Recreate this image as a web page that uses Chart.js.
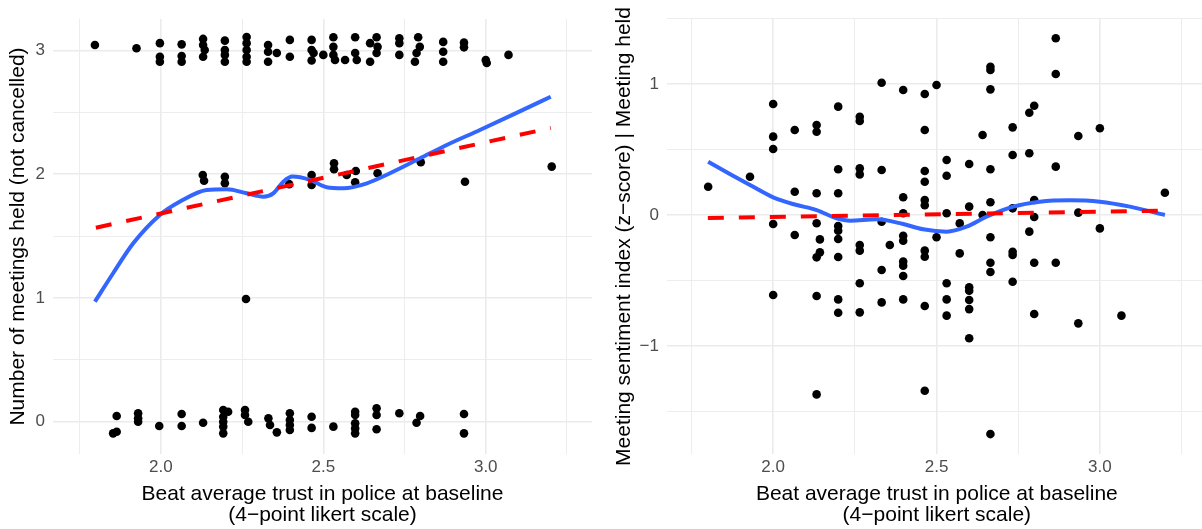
<!DOCTYPE html>
<html>
<head>
<meta charset="utf-8">
<script src="https://cdn.jsdelivr.net/npm/chart.js@4.4.1/dist/chart.umd.min.js"></script>
<style>
  html, body { margin: 0; padding: 0; background: #fff; overflow: hidden; }
  body { width: 1202px; height: 529px; position: relative; }
  canvas { position: absolute; top: 0; }
  #chart-meetings { left: 0; }
  #chart-sentiment { left: 601px; }
</style>
</head>
<body>
<canvas id="chart-meetings" width="601" height="529"></canvas>
<canvas id="chart-sentiment" width="610" height="529"></canvas>
<script>
// Axis breaks (labelled = major, blank = minor gridline)
const trustTicks = [1.75, 2, 2.25, 2.5, 2.75, 3, 3.25];
const trustTickLabels = ['', '2.0', '', '2.5', '', '3.0', ''];
const meetingTicks = [0, 0.5, 1, 1.5, 2, 2.5, 3];
const meetingTickLabels = ['0', '', '1', '', '2', '', '3'];
const sentimentTicks = [-1.5, -1, -0.5, 0, 0.5, 1, 1.5];
const sentimentTickLabels = ['', '\u22121', '', '0', '', '1', ''];

// Meetings held per beat (jittered)
const meetingsTrust = [
  1.797, 1.925, 1.997, 1.997, 1.997, 2.064, 2.064, 2.064, 2.13, 2.13, 2.135, 2.13,
  2.197, 2.197, 2.197, 2.197, 2.264, 2.264, 2.264, 2.264, 2.264, 2.33, 2.33, 2.357, 2.33,
  2.397, 2.397, 2.464, 2.464, 2.47, 2.464, 2.5, 2.531, 2.531, 2.531, 2.536, 2.567,
  2.598, 2.598, 2.603, 2.644, 2.664, 2.667, 2.664, 2.644, 2.734, 2.734, 2.734,
  2.792, 2.797, 2.787, 2.782, 2.869, 2.869, 2.869, 2.933, 2.933, 3.0, 3.003, 3.07,
  2.129, 2.133, 2.197, 2.197, 2.262, 2.395, 2.464, 2.464, 2.533, 2.533, 2.572, 2.6,
  2.598, 2.667, 2.8, 2.936, 3.203,
  1.864, 1.853, 1.864, 1.93, 1.93, 1.93, 1.995, 2.064, 2.064, 2.13,
  2.192, 2.207, 2.192, 2.192, 2.192, 2.192, 2.259, 2.259, 2.269, 2.331, 2.336, 2.357,
  2.397, 2.397, 2.397, 2.397, 2.464, 2.464, 2.531, 2.598, 2.598, 2.598, 2.598, 2.598,
  2.664, 2.664, 2.664, 2.734, 2.798, 2.787, 2.933, 2.933
];
const meetingsHeld = [
  3.045, 3.019, 3.06, 2.95, 2.91, 3.05, 2.956, 2.91, 3.094, 3.045, 3.004, 2.95,
  3.08, 3.005, 2.965, 2.91, 3.11, 3.06, 3.005, 2.95, 2.91, 3.045, 2.99, 2.98, 2.91,
  3.086, 2.95, 3.086, 3.005, 2.98, 2.92, 2.965, 3.107, 3.03, 2.965, 2.924, 2.924,
  3.107, 2.98, 2.924, 3.06, 3.107, 3.03, 2.98, 2.91, 3.1, 3.06, 2.965,
  3.107, 3.03, 2.98, 2.91, 3.07, 2.99, 2.91, 3.064, 3.026, 2.924, 2.9, 2.965,
  1.994, 1.948, 1.98, 1.927, 0.992, 1.92, 1.994, 1.913, 2.089, 2.04, 1.994, 2.027,
  1.935, 2.008, 2.097, 1.94, 2.062,
  0.046, -0.094, -0.081, 0.068, 0.027, 0.0, -0.035, 0.062, -0.035, -0.008,
  0.095, 0.081, 0.04, 0.0, -0.04, -0.094, 0.095, 0.054, 0.0, 0.027, -0.027, -0.086,
  0.068, 0.014, -0.027, -0.067, 0.04, -0.05, -0.04, 0.081, 0.054, -0.013, -0.054, -0.094,
  0.108, 0.054, -0.061, 0.068, 0.046, -0.008, 0.062, -0.094
];

// Loess and linear fits for meetings held
const meetingsSmoothX = [1.797, 1.853, 1.915, 1.997, 2.059, 2.141, 2.203, 2.264, 2.315, 2.346, 2.377, 2.405, 2.459, 2.51, 2.562, 2.634, 2.705, 2.798, 2.88, 2.982, 3.09, 3.2];
const meetingsSmoothY = [0.97, 1.2, 1.442, 1.671, 1.779, 1.873, 1.879, 1.846, 1.819, 1.846, 1.94, 1.981, 1.954, 1.895, 1.887, 1.927, 2.008, 2.129, 2.237, 2.358, 2.49, 2.627];
const meetingsFitX = [1.8, 3.2];
const meetingsFitY = [1.568, 2.374];

// Meeting sentiment per held meeting
const sentimentTrust = [
  1.801, 1.929, 2.0, 2.0, 2.0, 2.0, 2.0, 2.066, 2.066, 2.066,
  2.133, 2.133, 2.133, 2.133, 2.143, 2.143, 2.133, 2.133, 2.133,
  2.199, 2.199, 2.199, 2.199, 2.199, 2.199, 2.199, 2.199, 2.199,
  2.265, 2.265, 2.265, 2.265, 2.265, 2.265, 2.265, 2.265,
  2.332, 2.332, 2.332, 2.357, 2.332, 2.332,
  2.398, 2.398, 2.398, 2.398, 2.398, 2.398, 2.398, 2.398, 2.398,
  2.464, 2.464, 2.464, 2.464, 2.464, 2.464, 2.464, 2.464, 2.464, 2.464,
  2.5, 2.5, 2.531, 2.531, 2.531, 2.531, 2.531, 2.531, 2.571, 2.571,
  2.6, 2.6, 2.6, 2.6, 2.6, 2.6, 2.6, 2.641, 2.641,
  2.665, 2.665, 2.665, 2.665, 2.665, 2.665, 2.665, 2.665, 2.665,
  2.733, 2.733, 2.733, 2.733, 2.733, 2.733,
  2.784, 2.799, 2.784, 2.799, 2.799, 2.784, 2.799, 2.799,
  2.865, 2.865, 2.865, 2.865, 2.934, 2.934, 2.934, 3.0, 3.0, 3.066, 3.199
];
const sentimentScore = [
  0.216, 0.292, 0.847, 0.598, 0.504, -0.069, -0.611, 0.649, 0.178, -0.153,
  0.687, 0.636, 0.166, -0.063, -0.186, -0.285, -0.323, -0.618, -1.369,
  0.827, 0.349, 0.166, -0.084, -0.12, -0.183, -0.321, -0.644, -0.746,
  0.75, 0.718, 0.356, 0.31, -0.229, -0.272, -0.521, -0.743,
  1.01, 0.344, -0.051, -0.229, -0.42, -0.667,
  0.954, 0.135, 0.013, -0.158, -0.196, -0.356, -0.387, -0.466, -0.644,
  0.924, 0.649, 0.336, 0.254, 0.115, 0.074, -0.272, -0.318, -0.695, -1.341,
  0.992, -0.17, 0.42, 0.3, 0.013, -0.521, -0.644, -0.768, -0.064, -0.293,
  0.389, 0.064, -0.552, -0.578, -0.649, -0.718, -0.941, 0.611, 0.0,
  1.132, 1.107, 0.959, 0.349, 0.097, -0.17, -0.364, -0.435, -1.672,
  0.669, 0.458, 0.051, -0.28, -0.305, -0.509,
  0.781, 0.834, 0.471, 0.115, -0.015, -0.127, -0.364, -0.756,
  1.349, 1.076, 0.369, -0.364, 0.603, 0.018, -0.827, 0.662, -0.102, -0.768, 0.17
];

// Loess and linear fits for sentiment
const sentimentSmoothX = [1.801, 1.87, 1.929, 2.0, 2.066, 2.133, 2.194, 2.235, 2.316, 2.398, 2.459, 2.531, 2.592, 2.653, 2.735, 2.816, 2.908, 3.0, 3.092, 3.199];
const sentimentSmoothY = [0.407, 0.31, 0.229, 0.135, 0.08, 0.038, -0.025, -0.043, -0.033, -0.069, -0.109, -0.127, -0.089, -0.013, 0.064, 0.102, 0.113, 0.102, 0.064, 0.0];
const sentimentFitX = [1.8, 3.2];
const sentimentFitY = [-0.022, 0.034];

const xTitle = ['Beat average trust in police at baseline', '(4\u2212point likert scale)'];

Chart.defaults.font.family = "'Liberation Sans', Arial, Helvetica, sans-serif";

const zip = (xs, ys) => xs.map((x, i) => ({ x, y: ys[i] }));

/** Linear axis with fixed breaks and ggplot-like grid */
function axis(values, labels, opts) {
  return {
    type: 'linear',
    min: opts.min,
    max: opts.max,
    border: { display: false },
    grid: {
      color: '#EBEBEB',
      drawTicks: false,
      lineWidth: ctx => (labels[ctx.index] ? 1.6 : 0.9)
    },
    afterBuildTicks: scale => { scale.ticks = values.map(value => ({ value })); },
    afterFit: opts.fit,
    ticks: {
      autoSkip: false,
      maxRotation: 0,
      color: '#4D4D4D',
      padding: opts.tickPad,
      font: { size: 17 },
      callback: (v, i) => labels[i]
    },
    title: {
      display: true,
      text: opts.title,
      color: '#000',
      font: { size: 21, lineHeight: 1 },
      padding: opts.titlePad
    }
  };
}

/** Scatter panel: points, loess curve (blue) and linear fit (red dashed) */
function renderPanel(id, cfg) {
  return new Chart(document.getElementById(id), {
    type: 'scatter',
    data: {
      datasets: [
        { data: cfg.points, backgroundColor: '#000', borderWidth: 0, pointRadius: 4.3, order: 2 },
        { data: cfg.smooth, showLine: true, borderColor: '#3366FF', borderWidth: 4, pointRadius: 0,
          cubicInterpolationMode: 'monotone', fill: false, order: 1 },
        { data: cfg.fit, showLine: true, borderColor: '#FF0000', borderWidth: 4, borderDash: [16, 15],
          pointRadius: 0, fill: false, order: 0 }
      ]
    },
    options: {
      responsive: false,
      animation: false,
      events: [],
      layout: { padding: { left: 0, top: 19, right: cfg.padRight, bottom: 0 } },
      plugins: { legend: { display: false }, tooltip: { enabled: false } },
      scales: {
        x: axis(trustTicks, trustTickLabels, {
          min: cfg.xMin, max: cfg.xMax, tickPad: 3,
          fit: s => { s.height = 75; },
          title: xTitle, titlePad: { top: 0, bottom: 3.5 }
        }),
        y: axis(cfg.yTicks, cfg.yLabels, {
          min: cfg.yMin, max: cfg.yMax, tickPad: 8,
          fit: s => { s.width = cfg.yWidth; },
          title: cfg.yTitle, titlePad: { top: cfg.yTitlePad, bottom: 0 }
        })
      }
    }
  });
}

renderPanel('chart-meetings', {
  points: zip(meetingsTrust, meetingsHeld),
  smooth: zip(meetingsSmoothX, meetingsSmoothY),
  fit: zip(meetingsFitX, meetingsFitY),
  xMin: 1.668, xMax: 3.327,
  yMin: -0.261, yMax: 3.255,
  yTicks: meetingTicks, yLabels: meetingTickLabels,
  yTitle: 'Number of meetings held (not cancelled)',
  yWidth: 53, yTitlePad: 8, padRight: 9
});

renderPanel('chart-sentiment', {
  points: zip(sentimentTrust, sentimentScore),
  smooth: zip(sentimentSmoothX, sentimentSmoothY),
  fit: zip(sentimentFitX, sentimentFitY),
  xMin: 1.675, xMax: 3.327,
  yMin: -1.824, yMax: 1.496,
  yTicks: sentimentTicks, yLabels: sentimentTickLabels,
  yTitle: 'Meeting sentiment index (z\u2212score) | Meeting held',
  yWidth: 66, yTitlePad: 12.5, padRight: 4
});
</script>
</body>
</html>
